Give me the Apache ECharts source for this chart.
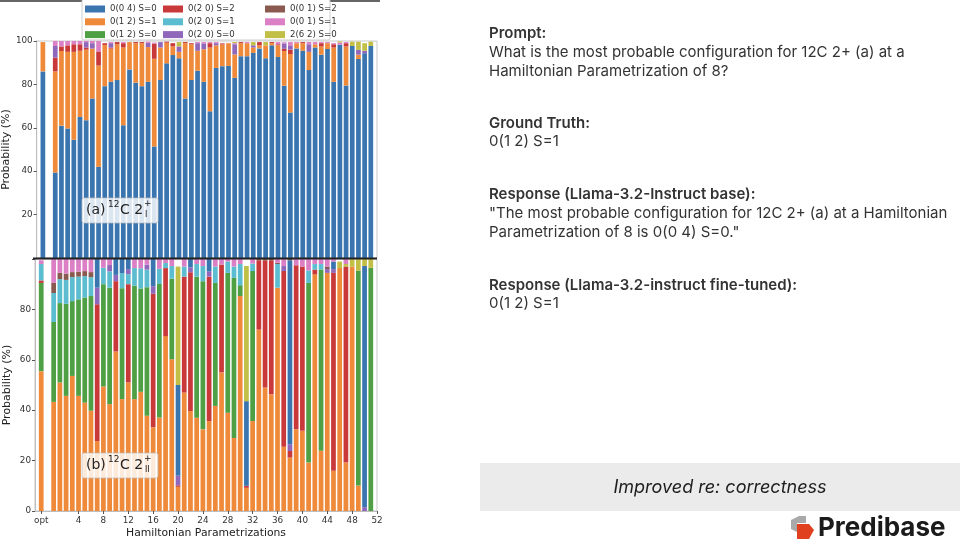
<!DOCTYPE html>
<html>
<head>
<meta charset="utf-8" />
<title>12C 2+ configuration probabilities</title>
<style>
  html, body { margin: 0; padding: 0; background: #fff; }
  #chart { width: 960px; height: 540px; }
</style>
</head>
<body>
<div id="chart"></div>
<script src="https://cdn.jsdelivr.net/npm/echarts@6/dist/echarts.min.js"></script>
<script>
// configurations, in legend order (column by column)
const configs = ['0(0 4) S=0', '0(1 2) S=1', '0(1 2) S=0',
                 '0(2 0) S=2', '0(2 0) S=1', '0(2 0) S=0',
                 '0(0 1) S=2', '0(0 1) S=1', '2(6 2) S=0'];
// x tick labels
const tickLabels = ['opt', '4', '8', '12', '16', '20', '24', '28', '32', '36', '40', '44', '48', '52'];

// panel (a) 12C 2_I+ : index 0 = opt, then parametrizations 0..51
const aBlue   = [86, 39.4, 61, 59.7, 54.5, 65, 63.5, 73.5, 42, 79.2, 81.2, 82, 61.2, 86.9, 80.8, 79.2, 81.2, 51.4, 82, 89.7, 93.5, 92, 73.5, 82, 86.3, 81.2, 67.6, 87.6, 88.4, 88.5, 83, 93, 93, 94.5, 96.6, 92, 98, 92.6, 79.4, 67, 96.6, 95.5, 86.6, 97, 93.7, 96.3, 81.2, 98.3, 79.5, 97.7, 91.7, 94.3, 97.7];
const aOrange = [13.5, 46.6, 34.4, 35.3, 40.5, 30.5, 32.5, 23, 46.7, 19, 15.3, 16.5, 35.8, 12.6, 18.2, 19.8, 16, 40.4, 15, 9.5, 4, 3, 25.5, 16.5, 9.2, 15, 29.4, 10.4, 10, 10.5, 10.8, 6, 6, 2.5, 1.4, 6, 1, 5.4, 16, 27, 2.4, 3.5, 8.4, 1.5, 3.8, 2.7, 15.8, 0, 18, 0, 2, 0, 0];
const aRed    = [0, 6.3, 2.1, 3, 3.5, 3, 1, 0, 6.5, 0.8, 0.5, 1, 2, 0, 0.5, 0.5, 0, 7, 0, 0.5, 1.5, 0, 0.5, 0.5, 0, 0, 2, 0, 0.5, 0, 0, 0.5, 0, 0, 1.5, 0, 0.5, 0.5, 1, 2, 0, 0.5, 0, 0, 1.5, 0, 1.5, 0, 1.5, 0, 0, 0, 0];
const aPurple = [0, 5.4, 0, 0, 0, 0, 2.5, 2.5, 0, 0, 2, 0, 0, 0, 0, 0, 2, 0, 2.5, 0, 0, 2.5, 0, 0, 3.5, 2.7, 0, 1, 0, 0, 4.7, 0, 0, 1, 0, 0, 0, 0, 2.5, 2, 0, 0, 3.5, 0, 0, 0, 0, 0, 0, 0, 2.2, 1.2, 0];
const aPink   = [0, 2.3, 2.5, 2, 1.5, 1.5, 0.5, 1, 4.8, 0, 0.5, 0, 0.5, 0, 0, 0, 0.5, 0.5, 0, 0, 0, 0, 0, 0, 0.5, 0.6, 0.5, 0.5, 0, 0, 0.5, 0, 0.5, 0, 0, 0, 0, 1, 0.5, 1.5, 0.5, 0, 1, 1, 0.5, 0.5, 0.5, 1, 0.5, 0, 0, 0, 0];
const aOlive  = [0, 0, 0, 0, 0, 0, 0, 0, 0, 0, 0, 0, 0, 0, 0, 0, 0, 0, 0, 0, 0, 2, 0, 0, 0, 0, 0, 0, 0, 0, 0.5, 0, 0, 1.5, 0, 1.5, 0, 0, 0, 0, 0, 0, 0, 0, 0, 0, 0, 0.5, 0, 2, 3.8, 3.5, 2];

// panel (b) 12C 2_II+
const bOrange = [55.5, 43.3, 51, 45.7, 53.6, 45.7, 43, 39.8, 27.8, 49.4, 42.4, 63.3, 44.4, 51, 44.4, 47.3, 37.8, 33.2, 37.1, 69.4, 60.2, 9.6, 47, 39.7, 37, 32.4, 35.7, 41.7, 55, 39, 29, 85.3, 9.2, 35.7, 72, 49, 46.3, 88.6, 25.5, 21.2, 32.4, 31.8, 19.2, 93.9, 23.9, 94.5, 16, 96.4, 19.2, 97, 10.1, 0, 0];
const bGreen  = [35, 31.7, 31.5, 36.5, 29.7, 38.3, 41.7, 45.5, 0, 40.6, 46.2, 0, 44, 0, 45, 41, 51, 0, 53, 0, 32, 0, 0, 0, 56, 58.8, 0, 48.8, 0, 55.5, 63.5, 4.3, 0, 59.5, 0, 0, 0, 0, 0, 0, 0, 0, 71.3, 0, 71.9, 0, 0, 0, 0, 0, 85.3, 0, 96.5];
const bRed    = [1, 0, 0, 0, 0, 0, 0, 0, 54.2, 0, 0, 27.9, 0, 39, 0, 0, 0, 53, 0, 27, 0, 0.6, 46, 55, 0, 0, 57.3, 0, 42.8, 0, 0, 0, 0.8, 0, 27.5, 50.5, 53.2, 0, 69.7, 2.6, 65.1, 65.2, 0, 1.9, 0, 0, 78.5, 0, 77.8, 0, 0, 0, 0];
const bCyan   = [6.5, 11.5, 9.5, 9.5, 9.5, 9, 8.5, 7.5, 0, 6.5, 6.5, 0, 6, 4, 7, 8, 7, 0, 6, 2, 5, 0, 4, 0, 5, 6, 0, 6.5, 0, 4.5, 4.5, 8.4, 0, 3, 0, 0, 0, 9.4, 0, 0, 0, 0, 5, 2.2, 2.2, 0, 0, 0, 0, 0, 0, 0, 0];
const bPurple = [0, 0, 0, 0, 0, 0, 0, 0, 6.6, 0, 2.5, 2.5, 0, 2, 0, 0, 2, 3, 0, 0, 0, 3.8, 0, 2, 0, 0, 2, 0, 0, 0, 0, 0, 0, 0, 0, 0, 0, 0, 2, 2.7, 0, 0, 0, 0, 0, 1.5, 1.5, 0, 0, 0, 0, 1.5, 0];
const bBlue   = [0, 0, 0, 0, 0, 0, 0, 0, 11.4, 0, 0, 6.3, 5.6, 4, 0, 0, 0, 10.8, 0, 0, 0, 36, 0, 3.3, 0, 0, 5, 0, 0, 0, 0, 0, 33.6, 0, 0, 0, 0, 0, 0, 73, 0, 0, 0, 0, 0, 0, 3, 0, 0, 0, 0, 95.7, 0];
const bOlive  = [0, 0, 0, 0, 0, 0, 0, 0, 0, 0, 0, 0, 0, 0, 0, 0, 0, 0, 0, 0, 0, 47, 0, 0, 0, 0, 0, 0, 0, 0, 0, 0, 53.6, 0, 0, 0, 0, 0, 0, 0, 0, 0, 0, 0, 0, 0, 0, 2.6, 1, 3, 4.6, 2.8, 3.5];
const bBrown  = [0, 4, 2.5, 2.5, 2, 2, 2, 2, 0, 0, 0, 0, 0, 0, 0, 0, 0, 0, 0, 0, 0, 0, 0, 0, 0, 0, 0, 0, 0, 0, 0, 0, 0, 0, 0.5, 0.5, 0.5, 0.5, 0, 0.5, 0, 0, 0, 0, 0, 1, 0, 0, 0, 0, 0, 0, 0];
const bPink   = [1.5, 9.5, 5.5, 5.8, 5.2, 5, 4.8, 5.2, 0, 3.5, 2.4, 0, 0, 0, 3.6, 3.7, 2.2, 0, 3.9, 1.6, 2.8, 0, 3, 0, 2, 2.8, 0, 3, 2.2, 1, 3, 2, 0, 1.8, 0, 0, 0, 1.5, 2.8, 0, 2.5, 3, 4.5, 2, 2, 3, 1, 0, 2, 0, 0, 0, 0];

const colors = {
  '0(0 4) S=0': '#3a75b0', '0(1 2) S=1': '#ee8a3a', '0(1 2) S=0': '#4f9f45',
  '0(2 0) S=2': '#c9393a', '0(2 0) S=1': '#5dbdd0', '0(2 0) S=0': '#9068bb',
  '0(0 1) S=2': '#8a5a50', '0(0 1) S=1': '#dc80c6', '2(6 2) S=0': '#c2bf47'
};

// category positions: -3 .. 52, with -2 shown as "opt"
const positions = [];
for (let p = -3; p <= 52; p++) positions.push(p === -2 ? 'opt' : String(p));

// place opt at -2, then parametrizations from 0
function toCats(vals) {
  return [null, vals[0], null].concat(vals.slice(1), [null]);
}

const panelA = [['0(0 4) S=0', aBlue], ['0(1 2) S=1', aOrange], ['0(2 0) S=2', aRed],
                ['0(2 0) S=0', aPurple], ['0(0 1) S=1', aPink], ['2(6 2) S=0', aOlive]];
const panelB = [['0(1 2) S=1', bOrange], ['0(1 2) S=0', bGreen], ['0(2 0) S=2', bRed],
                ['0(2 0) S=1', bCyan], ['0(2 0) S=0', bPurple], ['0(0 4) S=0', bBlue],
                ['2(6 2) S=0', bOlive], ['0(0 1) S=2', bBrown], ['0(0 1) S=1', bPink]];

const series = [];
panelA.forEach(function (s) {
  series.push({ name: s[0], type: 'bar', stack: 'a', xAxisIndex: 0, yAxisIndex: 0,
    barWidth: '76%', itemStyle: { color: colors[s[0]] }, data: toCats(s[1]) });
});
panelB.forEach(function (s) {
  series.push({ name: s[0], type: 'bar', stack: 'b', xAxisIndex: 1, yAxisIndex: 1,
    barWidth: '76%', itemStyle: { color: colors[s[0]] }, data: toCats(s[1]) });
});

const font = 'DejaVu Sans';
const showTick = function (idx, val) { return tickLabels.indexOf(val) >= 0; };

function legendCol(left, names) {
  return {
    orient: 'vertical', left: left, top: 4, z: 20, itemWidth: 20, itemHeight: 7, itemGap: 2.8,
    icon: 'rect', data: names, padding: 0,
    textStyle: { fontFamily: font, fontSize: 8.6, color: '#333', lineHeight: 10 }
  };
}

function yAxisFor(grid, hide) {
  return {
    type: 'value', gridIndex: grid, min: 0, max: 100, interval: 20,
    name: 'Probability (%)', nameLocation: 'middle', nameGap: 22,
    nameTextStyle: { fontFamily: font, fontSize: 11, color: '#222' },
    splitLine: { show: false },
    axisLine: { show: true, lineStyle: { color: '#bdbdbd' } },
    axisTick: { show: true, length: 3, lineStyle: { color: '#555' } },
    axisLabel: { fontFamily: font, fontSize: 8.8, color: '#333', margin: 4,
      formatter: function (v) { return v === hide ? '' : v; } }
  };
}

// right-hand text
const textLines = [
  ['Prompt:', 33, true],
  ['What is the most probable configuration for 12C 2+ (a) at a', 52, false],
  ['Hamiltonian Parametrization of 8?', 71, false],
  ['Ground Truth:', 123, true],
  ['0(1 2) S=1', 141, false],
  ['Response (Llama-3.2-Instruct base):', 194, true],
  ['"The most probable configuration for 12C 2+ (a) at a Hamiltonian', 213, false],
  ['Parametrization of 8 is 0(0 4) S=0."', 232, false],
  ['Response (Llama-3.2-instruct fine-tuned):', 285, true],
  ['0(1 2) S=1', 303, false]
];

const graphics = [
  { type: 'line', shape: { x1: 0, y1: 1, x2: 380, y2: 1 }, style: { stroke: '#333', lineWidth: 1.5 }, z: 1 },
  { type: 'rect', shape: { x: 82, y: -1, width: 248, height: 41, r: 2 },
    style: { fill: '#fff', stroke: '#cfcfcf', lineWidth: 1 }, z: 2 },
  { type: 'line', shape: { x1: 33, y1: 258.5, x2: 377, y2: 258.5 }, style: { stroke: '#222', lineWidth: 2 }, z: 20 }
];

function panelLabel(tag, sub, top) {
  const cy = top + 12;
  graphics.push(
    { type: 'rect', shape: { x: 82, y: top, width: 76, height: 25, r: 2 },
      style: { fill: 'rgba(255,255,255,0.82)', stroke: 'rgba(190,190,190,0.7)', lineWidth: 1 }, z: 30 },
    { type: 'text', x: 86, y: cy, z: 31, style: { text: tag, font: '14px "DejaVu Sans"', fill: '#222', verticalAlign: 'middle' } },
    { type: 'text', x: 108, y: cy - 5, z: 31, style: { text: '12', font: '9px "DejaVu Sans"', fill: '#222', verticalAlign: 'middle' } },
    { type: 'text', x: 120, y: cy, z: 31, style: { text: 'C 2', font: '14px "DejaVu Sans"', fill: '#222', verticalAlign: 'middle' } },
    { type: 'text', x: 144, y: cy - 6, z: 31, style: { text: '+', font: '9px "DejaVu Sans"', fill: '#222', verticalAlign: 'middle' } },
    { type: 'text', x: 145, y: cy + 5, z: 31, style: { text: sub, font: '8px "DejaVu Sans"', fill: '#222', verticalAlign: 'middle' } }
  );
}
panelLabel('(a)', 'I', 198);
panelLabel('(b)', 'II', 453);

textLines.forEach(function (t) {
  graphics.push({ type: 'text', x: 489, y: t[1], z: 10,
    style: { text: t[0], fill: '#333', verticalAlign: 'middle',
      font: (t[2] ? '600 ' : '') + '15px Inter' } });
});

graphics.push(
  { type: 'rect', shape: { x: 480, y: 463, width: 480, height: 48 }, style: { fill: '#ebebeb' }, z: 5 },
  { type: 'text', x: 720, y: 488, z: 10, style: { text: 'Improved re: correctness', font: 'italic 18px Inter',
    fill: '#1e1e1e', align: 'center', verticalAlign: 'middle' } },
  { type: 'polygon', shape: { points: [[791, 520], [799, 516], [806, 516], [806, 523], [797, 523], [797, 532], [791, 529]] },
    style: { fill: '#a9a9a9' }, z: 10 },
  { type: 'polygon', shape: { points: [[797, 524], [809, 524], [814, 530], [809, 539], [797, 539]] },
    style: { fill: '#e0401e' }, z: 11 },
  { type: 'text', x: 818, y: 528, z: 10, style: { text: 'Predibase', font: 'bold 26px Inter',
    fill: '#1b1b1b', verticalAlign: 'middle' } }
);

const chart = echarts.init(document.getElementById('chart'));
chart.setOption({
  animation: false,
  backgroundColor: '#fff',
  legend: [legendCol(85, configs.slice(0, 3)), legendCol(163, configs.slice(3, 6)), legendCol(265, configs.slice(6, 9))],
  grid: [
    { left: 35, width: 342, top: 41, height: 217, show: true, borderColor: '#c8c8c8', borderWidth: 1 },
    { left: 35, width: 342, top: 259, height: 253, show: true, borderColor: '#c8c8c8', borderWidth: 1 }
  ],
  xAxis: [
    { type: 'category', gridIndex: 0, data: positions, boundaryGap: false,
      axisLine: { show: false }, axisTick: { show: false }, axisLabel: { show: false }, splitLine: { show: false } },
    { type: 'category', gridIndex: 1, data: positions, boundaryGap: false,
      name: 'Hamiltonian Parametrizations', nameLocation: 'middle', nameGap: 17,
      nameTextStyle: { fontFamily: font, fontSize: 10.8, color: '#222' },
      axisLine: { show: true, lineStyle: { color: '#bdbdbd' } },
      axisTick: { show: true, length: 3, interval: showTick, lineStyle: { color: '#555' } },
      axisLabel: { fontFamily: font, fontSize: 8.8, color: '#333', margin: 5, interval: showTick },
      splitLine: { show: false } }
  ],
  yAxis: [yAxisFor(0, 0), yAxisFor(1, 100)],
  series: series,
  graphic: graphics
});
</script>
</body>
</html>
